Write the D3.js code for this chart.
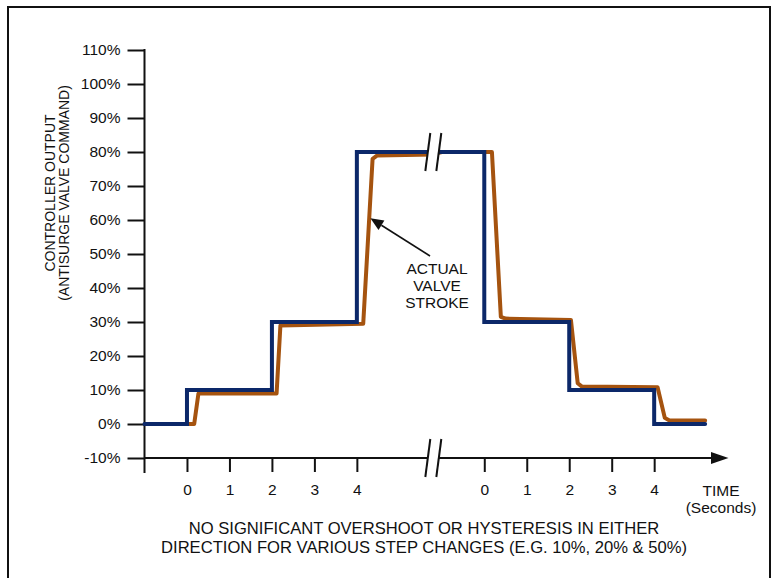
<!DOCTYPE html>
<html>
<head>
<meta charset="utf-8">
<script src="https://cdn.jsdelivr.net/npm/d3@7"></script>
<style>
  html, body { margin: 0; padding: 0; background: #fff; }
  svg { display: block; }
  text { font-family: "Liberation Sans", Arial, Helvetica, sans-serif; fill: #111; }
</style>
</head>
<body>
<svg id="chart" width="775" height="578"></svg>
<script>
// ---- data ----
// y axis tick values (percent)
const yTicks = [-10, 0, 10, 20, 30, 40, 50, 60, 70, 80, 90, 100, 110];
// time tick labels (seconds) for each of the two time windows
const timeLabels = [0, 1, 2, 3, 4];
// display-time offset of each window (second window starts 7 units later)
const windowOffsets = [0, 7];
// position of the axis break (display time)
const breakAt = 5.8;
// controller output command (display time, %)
const commandT = [-1, 0, 0, 2, 2, 4, 4, 7, 7, 9, 9, 11, 11, 12.2];
const commandV = [0, 0, 10, 10, 30, 30, 80, 80, 30, 30, 10, 10, 0, 0];
// actual valve stroke (display time, %)
const strokeT = [0, 0.17, 0.27, 2.11, 2.2, 4.15, 4.37, 4.48, 5.8, 6.0, 7.18, 7.39, 7.5, 9.04, 9.2, 9.3, 11.08, 11.25, 11.36, 12.2];
const strokeV = [0, 0, 9, 9, 29, 29.5, 78, 79, 79.3, 80, 80, 31.5, 31, 30.6, 12, 11, 10.8, 1.8, 1, 1];
// texts
const yTitle = ["CONTROLLER OUTPUT", "(ANTISURGE VALVE COMMAND)"];
const annotation = ["ACTUAL", "VALVE", "STROKE"];
const xTitle = ["TIME", "(Seconds)"];
const note = ["NO SIGNIFICANT OVERSHOOT OR HYSTERESIS IN EITHER",
              "DIRECTION FOR VARIOUS STEP CHANGES (E.G. 10%, 20% & 50%)"];

const BLUE = "#0c2869";
const ORANGE = "#a5530f";

const svg = d3.select("#chart");

// frame
svg.append("rect").attr("x", 8).attr("y", 7).attr("width", 762).attr("height", 600)
  .attr("fill", "none").attr("stroke", "#111").attr("stroke-width", 2);

const x = d3.scaleLinear().domain([-1, 12.75]).range([144.5, 728.5]);
const y = d3.scaleLinear().domain([-10, 110]).range([458, 50]);

// y axis
const yAxis = d3.axisLeft(y).tickValues(yTicks).tickSize(17).tickPadding(7)
  .tickFormat(d => d + "%");
const gy = svg.append("g").attr("transform", `translate(${x(-1)},0)`).call(yAxis);
gy.select(".domain").remove();
gy.selectAll(".tick line").attr("stroke", "#111").attr("stroke-width", 2);
gy.selectAll(".tick text").style("font-size", "15.5px").attr("fill", "#111");
svg.append("line").attr("x1", x(-1)).attr("x2", x(-1)).attr("y1", y(110) - 1).attr("y2", 473)
  .attr("stroke", "#111").attr("stroke-width", 2);

// x axis
const xTickVals = [];
windowOffsets.forEach(o => timeLabels.forEach(t => xTickVals.push({ v: o + t, label: t })));
const xAxis = d3.axisBottom(x).tickValues(xTickVals.map(d => d.v)).tickSize(14).tickPadding(12)
  .tickFormat((d, i) => xTickVals[i].label);
const gx = svg.append("g").attr("transform", `translate(0,${y(-10)})`).call(xAxis);
gx.select(".domain").remove();
gx.selectAll(".tick line").attr("stroke", "#111").attr("stroke-width", 2);
gx.selectAll(".tick text").style("font-size", "15.5px").attr("fill", "#111");
svg.append("line").attr("x1", x(-1)).attr("x2", 712).attr("y1", y(-10)).attr("y2", y(-10))
  .attr("stroke", "#111").attr("stroke-width", 2);
svg.append("path").attr("d", `M711,${y(-10) - 6}L728.5,${y(-10)}L711,${y(-10) + 6}Z`).attr("fill", "#111");

// series
const line = d3.line().x(d => x(d[0])).y(d => y(d[1]));
svg.append("path").datum(strokeT.map((t, i) => [t, strokeV[i]]))
  .attr("d", line).attr("fill", "none").attr("stroke", ORANGE).attr("stroke-width", 4)
  .attr("stroke-linejoin", "round").attr("stroke-linecap", "round");
svg.append("path").datum(commandT.map((t, i) => [t, commandV[i]]))
  .attr("d", line).attr("fill", "none").attr("stroke", BLUE).attr("stroke-width", 4)
  .attr("stroke-linejoin", "miter").attr("stroke-linecap", "round");

// axis breaks
function brk(cx, cy) {
  const h = 19, s = 2.5, gap = 5.5;
  svg.append("path").attr("d", `M${cx - gap - s},${cy + h}L${cx - gap + s},${cy - h}L${cx + gap + s},${cy - h}L${cx + gap - s},${cy + h}Z`)
    .attr("fill", "#fff");
  [-gap, gap].forEach(g => svg.append("line")
    .attr("x1", cx + g - s).attr("y1", cy + h).attr("x2", cx + g + s).attr("y2", cy - h)
    .attr("stroke", "#111").attr("stroke-width", 2));
}
brk(x(breakAt), y(-10));
brk(x(breakAt), y(80));

// annotation arrow
const ax0 = 430, ay0 = 256, ax1 = x(4.32), ay1 = y(60.5);
const ang = Math.atan2(ay1 - ay0, ax1 - ax0);
const hl = 13, hw = 5.5;
const bx = ax1 - hl * Math.cos(ang), by = ay1 - hl * Math.sin(ang);
svg.append("line").attr("x1", ax0).attr("y1", ay0).attr("x2", bx).attr("y2", by)
  .attr("stroke", "#111").attr("stroke-width", 1.6);
svg.append("path").attr("d",
  `M${ax1},${ay1}L${bx + hw * Math.sin(ang)},${by - hw * Math.cos(ang)}L${bx - hw * Math.sin(ang)},${by + hw * Math.cos(ang)}Z`)
  .attr("fill", "#111");
annotation.forEach((t, i) => svg.append("text").attr("x", 437).attr("y", 273.5 + i * 17)
  .attr("text-anchor", "middle").style("font-size", "15.5px").text(t));

// y title
const yt = svg.append("g").attr("transform", "translate(0,193) rotate(-90)");
yTitle.forEach((t, i) => yt.append("text").attr("x", 0).attr("y", 55 + i * 14)
  .attr("text-anchor", "middle").style("font-size", "14px").text(t));

// x title
xTitle.forEach((t, i) => svg.append("text").attr("x", 721).attr("y", 496 + i * 17)
  .attr("text-anchor", "middle").style("font-size", "15.5px").text(t));

// note
note.forEach((t, i) => svg.append("text").attr("x", 424).attr("y", 534 + i * 18.5)
  .attr("text-anchor", "middle").style("font-size", "16.6px").text(t));
</script>
</body>
</html>
